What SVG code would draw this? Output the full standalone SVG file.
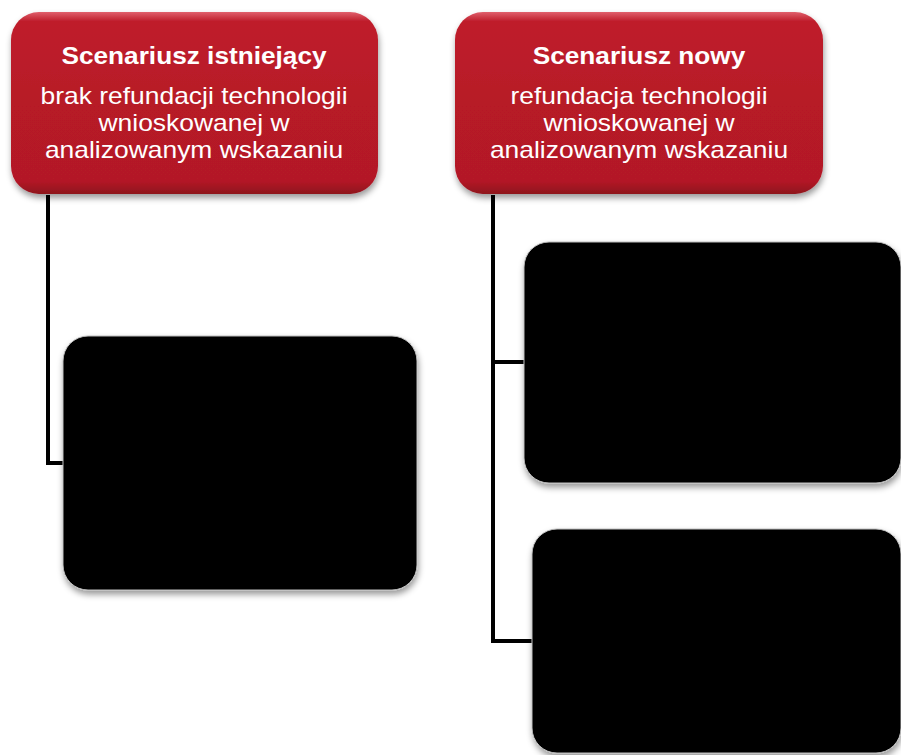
<svg xmlns="http://www.w3.org/2000/svg" width="901" height="755" viewBox="0 0 901 755">
<style>
.title{font-family:"Liberation Sans",Arial,sans-serif;font-weight:bold;font-size:23.2px;fill:#fff;text-anchor:middle}
.body{font-family:"Liberation Sans",Arial,sans-serif;font-size:23.4px;fill:#fff;text-anchor:middle}
.conn{fill:none;stroke:#000;stroke-width:4;stroke-linejoin:miter}
.red{fill:url(#redGrad);filter:url(#shadow)}
.blk{fill:#000;stroke:#bdbdbd;stroke-width:1;filter:url(#shadow)}
</style>
<defs>
<linearGradient id="redGrad" x1="0" y1="0" x2="0" y2="1">
<stop offset="0" stop-color="#e0606c"/>
<stop offset="0.05" stop-color="#bf1e2c"/>
<stop offset="0.5" stop-color="#b71a27"/>
<stop offset="0.93" stop-color="#b31926"/>
<stop offset="1" stop-color="#8e121d"/>
</linearGradient>
<filter id="shadow" x="-10%" y="-10%" width="125%" height="130%">
<feDropShadow dx="1" dy="4" stdDeviation="3" flood-color="#000" flood-opacity="0.4"/>
</filter>
</defs>
<rect width="901" height="755" fill="#fff"/>
<g id="connectors">
<path class="conn" d="M48 195 V463 H64"/>
<path class="conn" d="M493 195 V641 H533"/>
<path class="conn" d="M493 362 H525"/>
</g>
<g id="node-existing">
<rect class="red" x="11" y="12" width="367" height="182" rx="28"/>
<g transform="translate(194,0) scale(1.13,1)">
<text class="title" x="0" y="64">Scenariusz istniejący</text>
<text class="body" x="0" y="104">brak refundacji technologii</text>
<text class="body" x="0" y="131">wnioskowanej w</text>
<text class="body" x="0" y="158">analizowanym wskazaniu</text>
</g>
</g>
<g id="node-new">
<rect class="red" x="455" y="12" width="368" height="182" rx="28"/>
<g transform="translate(639,0) scale(1.13,1)">
<text class="title" x="0" y="64">Scenariusz nowy</text>
<text class="body" x="0" y="104">refundacja technologii</text>
<text class="body" x="0" y="131">wnioskowanej w</text>
<text class="body" x="0" y="158">analizowanym wskazaniu</text>
</g>
</g>
<g id="node-left-box">
<rect class="blk" x="63" y="336" width="354" height="254" rx="25"/>
</g>
<g id="node-right-top">
<rect class="blk" x="524" y="242" width="377" height="241" rx="25"/>
</g>
<g id="node-right-bottom">
<rect class="blk" x="532" y="529" width="369" height="224" rx="25"/>
</g>
</svg>
